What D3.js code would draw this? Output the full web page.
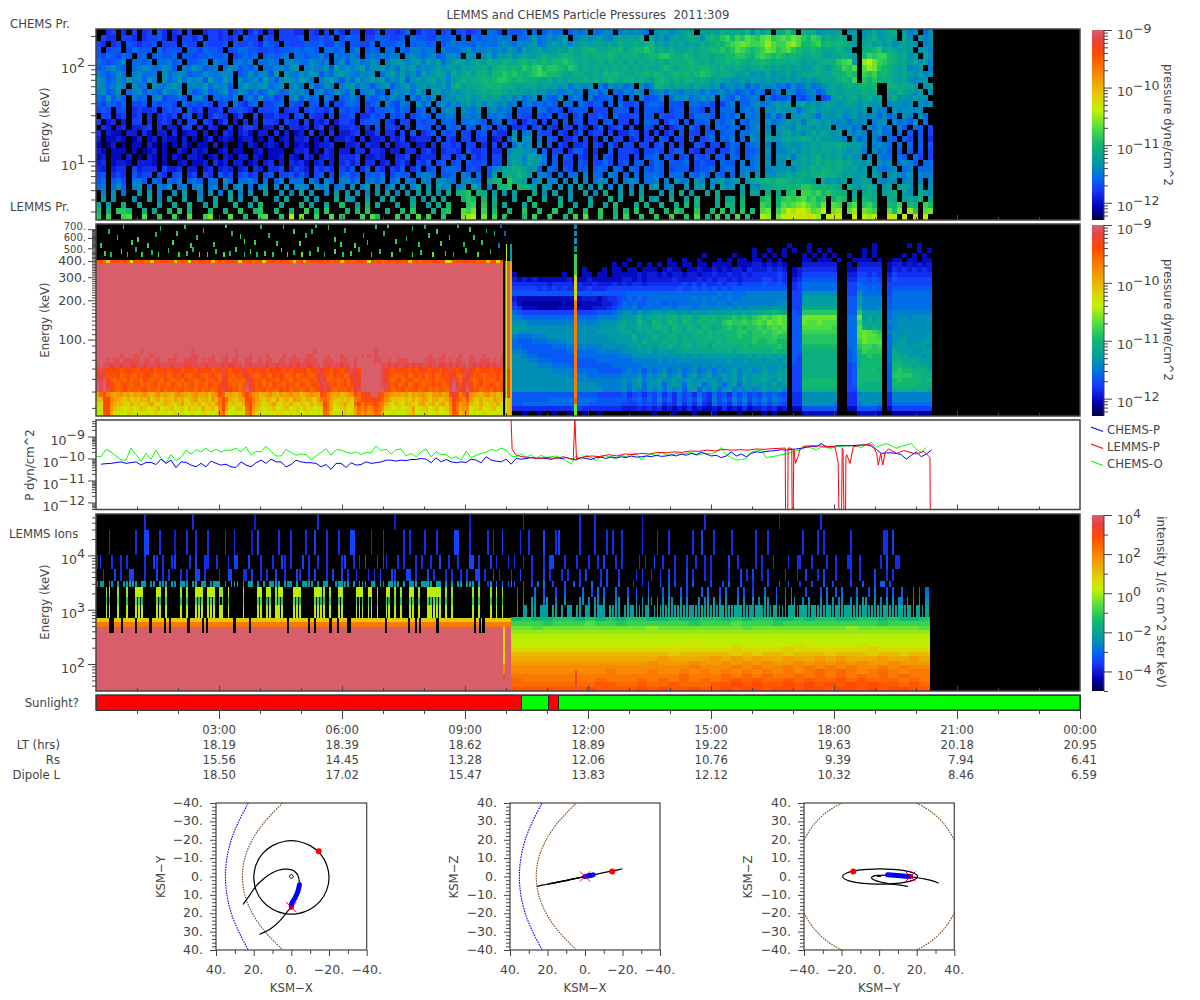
<!DOCTYPE html>
<html>
<head>
<meta charset="utf-8">
<script src="https://cdn.jsdelivr.net/npm/d3@7"></script>
<style>
  body { margin: 0; background: #fff; }
  text { font-family: "DejaVu Sans", sans-serif; font-size: 11.7px; fill: #444; }
  .tick text { font-size: 12.6px; }
  .tick line, .domain { stroke: #444; }
  .cells rect { shape-rendering: crispEdges; }
</style>
</head>
<body>
<script>
// spectrogram rows: one character per bin, 0-z is the height on the colour bar, '.' is no data
const chemsPrRows = [
"..56. 5.6.5 6.75. 56.6. .5665 6.56. 575.5 .6665 5.65. 6.75. 66.55  7.665 68.57 66.67 .6756 7.886 .7778 .8.79 88.79 89.88 a9.9a 9a98.  abb9a bcb.c bcbdc cdcea ebd.c dfc.d cdabb bc.ab .abca bcd.b 9a.8a",
".655. 665.5 6675. 5.665 7.665 656.7 66.76 .6666 7.667 67.68 77.66  87766 7.877 66877 8.7.8 78889 89.88 9a89a 9ab.9 abaab a9bcb cbd.c  ab9bc bcdca dedfg egfhg fhifg hgihf egfcd cdc.b .bcdb bcb.c a.b9a",
"65.56 .7656 67.66 6.766 .7666 7.766 76587 6.766 67778 6687. 77668  .7778 8.788 78.78 98887 98889 a98a9 ab89a bab9b bcbcc bcbdc cdcde  bcbcb cbcbd cdedf ghihg ghjhg gijhe efgde dedcb .cdbc bcabc ba.9a",
"7.677 .6877 7.867 76.77 68776 .6788 77667 67778 7887. 8878. 89.78  7.88. 87998 98.98 889a8 99a9a 9ba8b abcab bcbdc cdedc cddec deefe  cdcdc ccdcd deefe fhgfe fgihf ghfed dedcc cdcb. .ddef cdcbc b.ab9",
"76876 87.78 .7877 8.776 77877 8.678 78.78 789.8 87889 7.988 98.89  89899 .9a98 9a78a a9.ba .ab9b bcabc bbcdc cdedc cdcdd dedcd ddcde  effed dedcd dcdde effed fgfef ededc cddcb ccdcb .egfg gedcd ab.ba",
"87678 9.887 8.889 78.77 89.98 7.898 9.889 8.9a9 88a98 9.8a7 9a89a  9.9ab a9ab9 bab8a bcbab cbdcc ddcde deded eefed cdccd cdcdc dcdcd  cdcdd ddedc dcdde dedcd dedcd dcdcb cbcdd dfghb .jkig fedcc bcab9",
"789a8 7.89a 988a9 7.98a 9789. 8a978 79.88 9a8ab .9a99 a7b9a 9ab8a  ab9a8 bab9a 9abab bacbc cdbde ededf efgef fedfe cdcdc dcdcd cdcdc  cdedc ddede edcdc cdcbc cdcbc bcbcb bcdcb degfh .hjif edcbc 9ab.9",
"9878a 8.9a8 89.a8 9a978 8a989 a9.78 a89a7 b.a98 a9ba7 98aba 98a9a  .8ab9 b9a8b abcb9 cbcdb ddcee fefed efgfe edccd dccdc ededc cdded  edcde dedef edcdd cbbca bacab bcabc ccdcc ddefe .gfgd edcbc bab9a",
"a978a 8b9a7 b9.a8 9b8a9 a7b98 b9.a8 9a8b9 7aba9 ba8.9 ab97a 8b9ab  ab8a9 b7aba bcab9 bcdcd dedef feded ddccd bcbcc cdcdc dedcd dcdcb  dedcd cddcd cbcbb aabab babab ababa babcc cdedg .fdfd ddcbc a9ab.",
"a989a 9.a89 .a98a b9.9a 9b8a9 a7.9b a9ab8 9a.9a 8.a78 a9.9a b8a97  9ab79 ab9ab abab9 cdbcc cdede ddcbc ccbcb bab8a a9a.9 7a9a8 9.a89  ddcbc ccbcb bab8a a9a79 8a9a8 97a89 a89ab cbcdc dede. .ddcc cb.ab",
"9a78a .89a7 987a9 8a.97 8a789 a78a9 7978a 978a9 a8.9a 78a97 a.89a  78.9a 9a8b9 .ab9a babcb cdcdd cbcbb abaa9 a89a8 9.897 9.879 8a9.8  9a8a9 8a9a8 a89a8 97897 98.79 .a978 9a78b cbccc cdcd. .cbdc bab.a",
"87a79 7.978 .9a67 787.9 97.87 879.7 97a78 67.9a 7978. 97.78 97.87  797a8 9.97a 8a.9a abbca bcbcb ab9a8 9a.98 7a.89 8.967 78.7. 8.967  79.8a 9a89a 9a.98 7a789 8.967 78.76 89.67 bcbcd bcdbc .bdab abaa.",
"76876 8.667 .7677 6.867 676.6 7.865 78.66 78.76 6.77. 7.668 87.67  8.976 98.a8 9.9a8 a9ab9 b9ba9 a89.8 97878 7.88. 87677 .7.86 67.78  87.77 6.887 86.68 9.879 a89ab ab.bc ababc babcb abbab .9aa9 a.a9a",
"676.6 7.565 56.67 67.75 6.556 .6676 5.666 7.566 .6766 57.76 76.65  77886 87.78 .8.9a 9.a98 a.9a8 98.77 7.886 76.67 77.66 6.777 .6.77  76.67 7.776 .7.88 8.898 9.a9b aab8a bcabb abaab ab.a9 9.a9a a9a..",
".66.5 6.56. 5.565 6.67. 5.576 5.46. .6.55 655.6 7.655 .6.66 7.557  67.76 7.678 7.889 8.998 9.889 87.76 6.767 .76.6 7.667 6.866 67.77  .7667 7.688 87.78 79.98 9.8a7 9.aab ba8ba ab9ab 9a9a8 a79.a 9.a8.",
"6.45. 4.66. 5.565 .5.66 .65.4 6.4.5 .5.66 5.655 .6.54 6.466 5.677  7.65. 66.76 77.78 7.889 87.78 .76.5 76.6. 6.7.6 7.66. 77.66 .6.87  7.687 .7.77 8.878 9.879 9.a89 abab8 bcbab a9a8a 9a.9a a.989 7a.8.",
".54.4 5.445 6.5.4 4.66. 5.54. .5.46 65.44 .6.55 45.56 .4.55 65.5.  7.665 .6.77 7.6.8 78.87 .87.6 7.556 .67.6 5.66. 65.57 .567. 6..76  .6.56 7.86. 7.887 87.79 a.9.a ba9cb babab .a9a8 9.a8a 89.97 .87.6",
"5.433 .44.5 3.44. 5.344 .4.3. 54.45 3.44. 5.4.3 4.6.4 .5.44 56.44  6.55. 6.7.5 67.76 7.66. 67.65 5.a.8 9.766 .65.5 7.566 .6.55 76.6.  6.56. 7.66. 77.78 8.889 9.a.a bcab9 bcbcb ab.a9 a9.9a 88.8. 7.7.6",
"4.334 3.24. 34.43 3.4.3 .35.3 43.34 4.3.4 .34.4 45.3. 5.445 4.5.4  45.54 6.455 5.6.6 5.66. 66.45 .7b.a a.8.7 6.556 .6.5. 7.66. 56.66  .76.6 6.7.6 78.87 9.8.a 9.baa bcbcd cbcbb aa9.a 89.97 .87.7 6.7.5",
"3.24. 2.33. 42.3. 3.42. 33.4. 3..3. 43.34 3.4.3 43.34 45..4 45.54  4.5.4 55.44 .5.66 56.66 .5.6. 6.8b9 a.9.7 .65.5 56.65 .75.6 6.66.  67.6. 6..76 .66.6 87.78 9.9.9 abaab bcbcc cdcbb ba.9a 98.8. 8.7.7",
"43.33 3.3.2 34.3. .43.4 34..3 4.33. .34.3 33..4 45.3. 54.44 .55.5  54.44 .55.5 64.56 65.75 56.55 .9bba a9.7. 66.57 75.5. .7.66 65.66  76.67 7.65. 66.66 86.77 8.a.9 9abab bcbcc bcbab a9.a8 97.7. 7.7.6",
"34.33 .4.2. 43.3. 43.44 3.34. 43.44 .43.3 34.43 .54.4 54.55 56.44  54..5 56.45 55.66 .67.6 56.66 .abb9 cba8. 7.76. 65.6. 76.66 .6.77  8.76. 67.76 7.77. 87.78 9.9.a ab8bc bcdbc bcaba a.9.9 88.87 .86.6",
"45.34 43.44 43.3. .34.3 34.53 4.44. 34.45 .4.54 53.45 .4.56 46.55  .45.5 64.65 7.67. 67.76 67.66 .acb9 cba8. 7.66. 76.66 86.67 .77.6  87.77 78.67 66.87 7.9.8 9.a.a a.bbc bcdcd cdccb bab.a 9a.8a 97.88",
"54.45 5.645 55.64 45.44 .45.4 54.45 .54.5 56.46 54.65 65.65 7.57.  65.65 7.57. 67.78 87.67 6.79a bcddc ab7.8 7.76. 77.78 7.87. 87.76  87.67 77.67 78.78 8.998 9.9aa ab9bc cdcdd cdcbc ab.a9 89a.8 9.888",
"67.56 5.756 6.65. 67.56 .65.7 56.67 56.67 .6675 75.67 .6.78 67.77  78.68 77.89 98.77 8.98. 8.7b. cdcec b.997 .8.88 .9.87 .98.7 .8.88  87.88 8.879 7.87. 8.9a. a.a9b bcbcd cdded dcbcb bb.ba .ab99 a.999",
"78.78 6.897 .87.8 79.78 7.88. a7.88 97.8. 79.88 8.97. 97.99 79.89  79.89 .98.9 9.aa9 8.9a9 8.bde .fdcb .9a.9 9.9.a .9.8a 9.8.9 a9.88  9.9.a 89.a9 .9ab9 ab.ac cdede edcdc cb.ca bac.a bca.a 9aa.9 a.9.9",
"89.8a 7.9a. 8.98a .89.9 a.89. 9.9a. 8.9a. 9.a.9 a9.a8 a.89. a.9b.  a.8a. a.9b. a.b9a .9a.b a.9.d ef.ed cb.ba .a.a. b.a.b .9.a. 9.a.a  b.9a. .a.ab .a.b9 a.b.a 9ccdd dedef feded dc.db abdb. bc.bc a.b.a",
".9.a. 8..a. b.9.. a.b.. 9.a.8 .b.9. a..b. .a.9. b.a.. 9.b.a .a.9.  a.b.9 .a.b. b.a.c .def. dc.b. a.b.. .c.a. b..a. .b.9. c..b. a.b..  .a.b. c.a.. b.c.. ..b.c b.d.c .ef.g gfgef edd.c .cdc. bcd.b a.cba",
".b.a. ..a.. c.9.b ..b.. a..b. .c.a. .b... a.c.. .b.a. ..c.b a..b.  .b.c. ..b.a .c.b. ..dfe .e.c. ..b.. d..b. .c.a. ..b.. .d.b. ..c.a  b..c. .b.d. ..c.b c.d.. .ef.d fgfgh fgef. dfe.d .edc. .dc.b cbd.c",
"c.b.. d..c. ..b.. c..d. .b.c. ..d.. b.e.. .c... d.b.. c..e. .b.d.  c...b ..d.. b.c.e ...fg .f.d. c...b .e... .d..b ..c.. b.e.. .c.d.  .d..c .e.d. ..c.e d.e.. .gf.e hghij hgfi. hg.fh .fge. .edg. ed.ge",
"e.d.f fe..d .c..e .f.d. ..e.. d..f. .ef.. e..d. .g.e. f...d .e.f.  ..d.. e.f.. .d.ef ..hgi .g.e. .d..f ..e.. f..d. .e..f ..d.e .f..e  ..e.f d..f. .e.f. d.f.e .hi.g ikjlk jhik. ij.hj .ihg. .hei. jf.hi",
"f.g.. gh..h ..f.. g..h. .gi.. .h..e ..gh. .f.k. i..g. .h.f. ..g.h  e...g .f.h. g..f. ..ijk .i.g. f...e .g..f ..e.g .h..f ..e.g ..f..  f..g. .f.h. e.g.f .h.f. .kj.i klkmk mlj.k lk..l .kjl. .mk.l .n.l."
]
const lemmsPrRightRows = [
"", "", "", "",
"....... ....... ....... ....... ....... ....... ....... ......3 ...3... ....... ..3.... ..3.3..",
"....... ....... ....... ....... ....... ....... ......3 ..3..3. 3..3.3. 3...... 3.3.... ....3.3",
"....... ....... ....... ....... ....... ...3... ..3...3 .3.3.3. ..3.3.3 .3..3.. 3.3.... .3.3.3.",
"....... ....... ....... ..3.... ...3..3 ..3...3 .3.33.3 3.3.3.. ..33.33 3.3..33 33.3..3 3.33.33",
"....... ....... ......3 .3..3.3 .3.33.3 3.33.33 33.3334 434343. ..44444 44..3.4 4444.34 4343434",
"....... ....... 3...3.3 3.33.33 3.3433. 3343343 4344354 445454. 3455555 55..335 5555.35 4545454",
"3...... ...3... 33.33.3 3333434 4343443 4434454 4544545 555565. 3466666 66..446 6565.46 5555555",
"4343433 3333433 3433333 3443434 4444544 4454545 5454555 566565. 4577777 77..557 7676.57 6666666",
"5555555 4555545 4454445 4545545 5555556 5656556 5665666 676676. 5688888 88..668 7777.66 6666666",
"6666656 5656555 5655566 6666666 6666676 6767676 7677777 777777. 5688888 88..668 8787.67 7777777",
"7777777 7777777 7777777 7788888 8888888 8888889 8988899 999999. 66aaaaa aa..66a 8888.68 8888888",
"4333333 3333333 4443455 6787878 8888888 8989898 8988999 999999. 66bbbbb bb..77b 9999.78 8888888",
"5322222 2223222 3333445 6878778 8878788 8889889 9899999 9999aa. 66bbbbb bb..77b 9999.78 8888888",
"6533322 2233333 3344456 7889788 8899899 9899999 9a9a9aa aaabaa. 66ccccc cc..77c 999a.78 8888888",
"8766666 6666666 6667778 9aa9baa bbabbab abbabbb bbcbcbc dddedc. 76fffff ff..77f bbbb.89 9999999",
"9988888 8888888 8889999 abbbdbc cdcdecd ecdeded eefefef ghghih. 77iiiii ii..88i bcbc.89 aa9aaaa",
"aaa9999 9999999 999aaaa bcbbecb edcedce dcededd fgffgfg hgihih. 77ihhih hh..88g cccc.99 aaaaaaa",
"bbbaaaa aaaaaaa aaaabbb ccbbdcc dedcedc edcedcd efefeff gfghgh. 77hhhhh hg..88h dcdc.89 aaaaaaa",
"baaaaaa aaaaaaa aaabbbb bccbccd ccdcddc ddedede eeeffef fgfghg. 77ggggg gg..88h ihgf.9a aaaaaaa",
"9888999 aaaaaaa aaaaabb bbbdbbc dccddcd cdddedd deefeef fffgff. 77fffff ff..88h ihhg.8a abaaaab",
"8777888 9999aaa aaaaaaa bbbcbdc ccdcdcd dcdddde deeeeef eeffee. 77fffff ff..88g ihhh.8a bbaaabb",
"8877777 7888999 9999aaa aabbcbc bccdccd dcddcdd ddddede eeeefe. 77eeeee ee..88f ggfg.8b bbabbba",
"9987777 7777888 8889999 9aaabbc abbbbcc ccccccd cdcdddd dddedd. 77ddddd dd..78e gfff.8c bbbaabb",
"aa98877 7777778 8888888 999aaaa aaaabab ababbbb bbbbbcb cbcbcb. 76ddddd dd..78d efee.8d ccbbbab",
"aaa9988 8777777 7778888 8889999 9a9a9aa aaaaaaa abaabab babbab. 76ddddd dd..78d eeee.8d dcccbbb",
"aaaaa99 9888877 7777778 8888899 9999999 9a9a9a9 aaaaaaa abaaba. 66ddddd dd..67d eeee.7e eddcccb",
"aaaaaaa a999988 8887777 7898979 89a89a8 9a89a8a 9ab9ab9 abaabb. 66ddddd dd..67e eeed.7e feedddc",
"aaaaaaa aaaa999 9888888 8999a8a 9ab9ab8 ab9ab9a bab9bab bcbbcb. 66ddddd dd..67e eeee.7f fffeedd",
"aaaaaaa aaaaaa9 9999999 9a9ab9a abaabaa baabab9 bab9bab bcbacb. 66eeeee ee..67e eeee.7e feeeede",
"aaaaaaa aaaaaaa aaa9999 9a8ab8a ab8aba8 bab8aba 8ab8bab abacab. 66eeeee ee..67e dddd.7e eeeeddd",
"aaaaaaa aaaaaaa aaaa999 9a8a98a 9a8a9a7 ab7a9a8 ab8a9a9 abaab9. 66ddddd dd..66d dddd.7d dddcddc",
"7777777 7777777 7776666 6756757 6857586 7586586 7586867 687876. 55aaaaa aa..559 aaaa.59 9999999",
"7777777 8888888 8887777 7767868 6968586 8696596 8697968 797987. 55aaaaa aa..55a aaaa.59 9999999",
"7788888 8888888 8777777 7666767 6856585 7585486 7586857 686876. 55aaaaa a9..559 aaa9.58 8888888",
"5555555 5555566 5555555 5444545 4534343 5343343 5343534 454534. 3377777 77..337 7776.36 6666666",
"..2..2. .2..2.. 2..2... ....... 2...2.. .2...2. ...2... .2.2... ..33333 33....3 3332..2 2222222"
]
const lemmsPrLowRows = [
"zzzzzzzzzz zzzyzzzzzz zzzzzzzzyz zzzzzzzzzz zyzzzzzzzz zzzzzzzzzz zzzzyzzzzz zzzzzzzzzz zzyzzzzzzz zzzzzzzzzz zzzzzzzzzz zzzzzzzzzz",
"zzzzzzzyzz zyyzzzyzzz zzzyzzzzyy zzzzyzzzyz zyzzzyzzzz yzzzzyzzyz zzyyzzzzyz zzyzzzzzyz yzyzzzzzzz zzzzzzzzyz zzyzzzzyzz yzzzyzzzzy",
"zzzyzyyzyy yyyzyyzyyz zyyyzzyyyy zyzyyzzyyz yyzzyyzzyz yyzzyyzyyy zyyyyzzyyy zzyyzzyzzz zzyyzzyzzy yyzzzzzyyy zyyzyzyyzz yyzyyyzyzy",
"yzyyxyyxyy xxyyxyyyxy yyxyyyxxyy yyxyyyyxyx xyyzyxyyyy xyyxyyyxyx yyxxyyzyxy yyxyyzyzzz zzzzyyxyxy yxyxyxyyxy yxxyxyxyyz yxyxyxyxyy",
"wywvvwvuvw vvuwvvwuvv wuvvwuvvvu wvvwuvvyvu vvwxvuwvvw uvvwvuwuvw vwuvvyxvvu wvuvwyxvzz zzzzyxvuwv vwuvuvwvuw vuwvyvuwvy wvuvwvuwvv",
"xwyuvuvtuv utvuvwutuu vtuvuwutuv vutuwutwvu tvuwxvutuv utvuwutuvt uvutuwyvut vuvtuxxwzz zzzzywvutu uvtuvuvtuv tuvuxwutyx vuvutuvuvu",
"yxzwutuutv tuutvutuut vutuutvuut uvtuuvtxwt ututxwvuut vuutvuutvu utuvuxywtu utuvtwxwzz zzzzyxutuv tuvutuutuv tuuvxyvtwx utuvtutuvu",
"zyzxvutuvu tuvtutuvtu utvututuvt uutvutvxvu tutuyxvuvt utvuutvuut vutuvuxywu vtuvtvxxzz zzzzyyvuvt uvtuvutuuv uvtuxzxuxy vtuvtuvutv",
"zyzywutuvt uutuvtuutv tuutuvtuut vtuutuvyxv uutuzywuuv tuutvuvtuu tuvtuvxyxu tuutvuxyzz zzzzzyvtuu vtuuvtuvtu tuutyzyvxz wuvtuutvuv",
"qtvsqpqrpq oqpqrpoqrp qpoqrqpoqr ppqoqrvtpq poqtvtrqop qrpoqpqrpq opqrqpvusq pqopqrvtvw wzzvusrqpq pqoqpqrpoq qrpqvxvrux rqpoqrpqop",
"oovvsqponp nonpoqnopn ponqopnopq nopnqosvtp onpqvusqon ponqnopnqp onponqstsp ononpnstvv vwwvtrqnon nonpnoqpnp pnopswutru qonpnonqpo",
"nmvvrpoonm pnomnoqnmn ponmoqnmon pmnonqsvrn onmpuvrpom noqnmonpnm onmpnopvsp mnoqnmtvsu tuvtspnmon mponmpqnop mpqnrvtqrs onmpnmonpm",
"lmvvqonmlm nlmonlmnpl mnolmnlomn lpmnolrvqm lnomtvqonl mnolmnolmn lomnlmnusp lmnolmqtrt rsutrnmlmn lmnqlmnolm olmnqvspqr lmnolmnolm",
"kkuvpmlkln mklmkmlnkl mlknlmklml knmlkmqtnl kmlksupmkl mklnmklmkn lkmlkmltrn kmlnkmpsqs qrtsplkmlk kmnplkmnlk nlkmputnpq kmlknmlkml"
]
const lemmsPrBandRow = "uvtnuvvuwu lvuvtunvuv wuvnuvulvu vwuvnuvtuv wulvuvtuvn uvwuvuvtlu vnuvuwvuvt uvnuvtuvwu lvuvtuvuwv uvnuvtuvuv wuvlnuvuwv uvtuvnuvlu"
// [hour, keV, colour code] of the lone bins above the 400 keV channel
const lemmsPrSparks = [
[.2,440,'g'],[.35,430,'e'],[.6,450,'h'],[.75,430,'f'],[.95,470,'e'],[1.1,430,'g'],[1.35,445,'e'],[1.5,430,'h'],[1.75,460,'f'],[2.0,430,'g'],
[2.2,440,'f'],[2.35,470,'e'],[2.5,430,'i'],[2.7,430,'g'],[2.9,455,'f'],[3.1,430,'h'],[3.25,440,'e'],[3.4,470,'g'],[3.6,430,'f'],[3.75,450,'h'],
[3.9,430,'e'],[4.1,440,'g'],[4.3,430,'f'],[4.5,465,'h'],[4.65,430,'g'],[4.8,445,'e'],[5.0,430,'i'],[5.2,440,'f'],[5.4,470,'g'],[5.55,430,'e'],
[5.8,450,'h'],[6.0,430,'f'],[6.2,440,'g'],[6.4,470,'e'],[6.7,430,'g'],[6.9,450,'f'],[7.2,430,'h'],[7.4,465,'e'],[7.7,430,'g'],[7.9,445,'f'],
[8.2,430,'i'],[8.5,440,'g'],[8.7,430,'e'],[9.0,460,'f'],[9.3,430,'h'],[9.6,450,'e'],
[.3,640,'e'],[.85,530,'g'],[1.0,560,'h'],[1.55,680,'e'],[1.95,620,'f'],[2.3,500,'g'],[2.6,660,'e'],[3.15,720,'g'],[3.5,590,'f'],[3.6,540,'h'],
[4.0,700,'e'],[4.4,520,'f'],[4.8,640,'g'],[5.1,600,'e'],[5.35,720,'f'],[5.8,560,'g'],[6.05,660,'e'],[6.3,500,'h'],[6.8,700,'f'],[7.0,620,'e'],
[7.3,540,'g'],[7.7,680,'e'],[8.1,600,'f'],[8.4,520,'g'],[8.8,720,'e'],[9.2,580,'f'],[9.5,650,'e'],[9.8,500,'8'],[9.95,620,'7'],
[.1,500,'f'],[.5,580,'e'],[.65,700,'f'],[1.25,500,'g'],[1.45,610,'e'],[1.85,530,'h'],[2.15,700,'f'],[2.45,580,'e'],[2.85,510,'f'],[3.3,620,'e'],
[3.85,530,'g'],[4.2,600,'e'],[4.55,700,'f'],[4.95,520,'h'],[5.25,640,'e'],[5.65,690,'f'],[5.95,510,'g'],[6.5,600,'e'],[6.6,530,'f'],[7.1,720,'g'],
[7.55,570,'e'],[7.85,510,'f'],[8.0,700,'e'],[8.3,640,'g'],[8.6,580,'f'],[8.95,510,'e'],[9.1,670,'g'],[9.4,530,'f'],[9.7,620,'e'],[9.85,720,'7']
]
// [start hour, end hour, low keV, high keV, colour code]
const lemmsPrStrips = [
[0,9.93,85,385,'z'],[9.98,10.1,60,400,'z'],[9.98,10.1,36,60,'w'],[9.98,10.1,26,36,'o'],[10.0,10.03,26,540,'l'],[10.1,10.15,26,400,'p'],[10.1,10.15,400,540,'b'],
[11.67,11.73,26,32,'i'],[11.67,11.73,32,36,'u'],[11.67,11.73,36,200,'s'],[11.67,11.73,200,310,'m'],[11.67,11.73,310,450,'g'],
[11.67,11.73,470,520,'b'],[11.67,11.73,540,600,'b'],[11.67,11.73,620,680,'a'],[11.67,11.73,700,765,'a']
]
const lemmsIonEdges = [57800,29400,10160,5600,3390,2620,1714,1220,703]
const lemmsIonUpperRows = [
".......... ......5... .......... ..5....... .......... ...4...... .......... ....5..... .......... .......... 4......... .......... .....4.... ..........  ...5...... .......... ..5....5.. .......... ...4...... .......... ....5..... .......... .........4 .......... ...5...... .......... .......... ..........",
"....5..... ...5..66.. .5....4... 5..5...5.. ...5..5... ..4.6..... .5...5.... 5..6...5.. .5...66... ..5...5... ...5.5.... 5...5..... 66...5.... .5.5..6...  ..5..5.... 6...56.... ..5....5.. .5.5..5... ...5....5. ..5....... 5..6...5.. ...5...... .5...5.... .......5.. ..5.5..... ...5...... ....55.6.. ..........",
"56...5..5. 5.....5..6 5.5..56... .5.6..55.. 5...5.66.. .6...5...5 ..65.5...6 .5..5..5.. ..56..5.5. 6...5.65.. .5.5...5.5 ..5..6..5. .5...66.5. ..6.5...5.  5..5..5... 5.66...5.. .5...5..5. 6...5.5... ..5.5..6.. 5...5...5. .5..5.5... ..6..5.... .5.5...5.. ..5..55... 5....5..5. ..55..5... ...5.6..55 ..........",
"..5...6.5. .66...5... 6.5.5...5. 5..66.5... .5..66...5 5.6..5.5.. 6..5...65. .5.6...5.6 ..6.5..5.. .5.5.6...6 5...66.5.. .6.5...5.5 ..5.5..66. 5..6.5...5  ..6...5... 6.5...5.5. ..5.6....5 .6...5.... .5.6..5..5 ..6.5...6. 5...5.5... ..5...6.5. 6..5.5.... .5...5..6. ..5.6...5. ...5..5... .6...5.5.. ..........",
"abb.ba.b.a bcba.bb.ab .bab.ba.bb a.bc.bb.ab bb.a.bab.a .bb.a.b.bb ab.baa.b.b bcb.a.bb.. abbab.b.ab a.bb.ba.bb ab.b.aab.b bbc.bb.a.b .ab.bab.a. .5a.7.8.6b  6..7..6.8. 9..6...6.. 7.6...8..6 .6...7.... 6..5.6...8 ..7.6...6. 7.....6... 6.8...7... 5....6...6 ..7...5... 6...7..6.. ...6...7.. .6.77.6... ..........",
"...ik..j.. j..kkk.... kk.j....j. j..kkk.kkk .jj.k....j ....kk.kk. jkk...kkk. ...kkkj.j. .kk....kkk .kk.j..kk. j.j..kk.j. .kkkkk.j.j ......j.j. ..j.k.j...  .7.6...8.. 7...6..7.. ...8..6.8. 7...8...6. .6...8.... 7.8...7.6. ...7.8...6 .8...7.6.. 6...8...7. .7.8....6. ...6.8..7. 8....7...6 .8...6.7.. 7...8.8.88",
"...ge..h.. f..hge.... he.g....f. f..gfg.hgh .fg.f....h ....gh.eg. hgf...hge. ...hgef.f. .fh....ghf .gh.f..ge. h.f..hg.f. .gfhgh.f.h ......g.f. ..f.h.f...  .9.a..ba.. 8a..9..a.. ..9a.9.a9. a...9a..a. .9.a.ba.9. 9.ba..a.9. ..a.9a.b.9 .a...9.a.. a.9.ba..9. .a.ba..9.a ...a.9.a.9 a..9.a.ba. .a.9.a.a.9 9.a.9.a.aa",
"...lk..k.. k..lkl.... kl.k....k. k..lkl.klk .kk.l....k ....kl.kl. kkl...klk. ...lklk.k. .lk....klk .kl.k..lk. k.k..kl.k. .kklkl.k.k ......k.k. ..k.l.k...  .b.bb.cb.b bb.cb.b.bb .cb.bb.cbb b.cbcb.bcb bcbcbb.bcb cbcbcbcbcb bcbcbcbcbc cbcbcccbcb bcccbcbccb cbcccbcccb ccbcbccbcc bcccbcbccb cbcbccbcbc cbccbccbcc"
]
const lemmsIonRightRows = [
"efeeffefef effeefeeff efeffeefef feeffefeef",
"gggfggghgg fggggggfgg ghgggfgggg gggggfgggg",
"iihiiiiiii iiijiiiiii iihiiiiiii iijiiiiiih",
"jjjjjjjjjj jjjjjjjjjj jjjjjjjjjj jjjjjjjjjj",
"kkkkkkkkkk kkkkkkkkkk kkkkkkkkkk kkkkkkkkkk",
"kkkkkkkkkk kkkkkkklkk kkkkkkkklk kkkkkkkkkk",
"llllllllll llllllllll lmlllllmll lllmllllll",
"mmmmmmmmmm mmmmmmmmmm mnmmmmnmmm mmmmnmmmmm",
"oooooooooo ooooonoooo ononoonooo nooonoonoo",
"pppppppppp ppppqppppq pqpqppqppq pqpppqppqp",
"qqqqqqqqqq qqqrqqqrqq rqrqrqqrqr qrqrqqrqqq",
"rrrrrrrrrr rrrrrrrsrr rsrsrrsrsr srsrrsrsrr",
"rrrrrrrrrs rrrsrrsrsr srsrsrsrst stsrstsrss",
"ssssssssss sssssstsss tststsstst ststststss",
"tsssssssts sststststs tututtutut tututttsts",
"ttttttttuu ttuttutttu uvuvuuvuvu vuvuvuutut",
"uuuuuuuvuu uuvuvuuvuu vuvvuvvuvv uvvuvuvvuu"
]
const lemmsIonStrips = [
[0,10.13,593,703,'n'],[0,10.13,490,593,'s'],[0,9.93,31.9,490,'z'],[9.98,10.13,31.9,490,'z'],
[9.93,9.98,100,490,'m'],[9.93,9.98,65,100,'r'],[9.93,9.98,50,65,'y'],[9.93,9.98,31.9,50,'z'],
[11.68,11.72,42,75,'w'],[11.68,11.72,32,42,'y']
]
const ionNotchHours = [.32,.38,.60,.94,1.30,1.65,1.77,2.23,2.58,2.68,3.35,3.73,4.66,5.17,5.31,5.69,5.87,6.11,6.15,7.04,7.60,7.77,7.88,8.30,9.21,9.33,9.42]

// pressures in units of 1e-10 dyn/cm^2, one value per 0.122 hours
const pressureUnit = 1e-10
const seriesStep = 0.122
const chemsO = [1.2,1.2,2.6,2.0,1.3,.85,.85,2.9,1.5,.75,1.7,.9,2.4,1.0,.65,1.5,.8,1.1,2.4,1.6,2.5,2.0,2.9,2.0,2.6,2.0,2.4,2.4,2.9,2.0,3.4,1.4,2.1,2.0,3.6,2.1,1.3,1.3,2.6,1.9,1.4,1.6,1.5,.9,1.3,1.9,2.8,1.4,2.5,2.4,1.9,1.7,2.0,1.5,1.9,1.8,3.7,2.3,2.6,1.6,2.5,2.7,1.3,1.7,1.2,2.0,2.7,1.2,2.0,1.5,1.5,1.0,1.2,.85,2.1,1.1,1.4,1.7,1.9,2.6,2.2,3.0,2.4,1.3,1.2,1.6,1.1,1.5,1.0,1.4,1.1,1.2,1.3,1.0,.8,.55,1.3,.9,1.4,1.1,.8,1.4,1.3,1.1,1.0,1.4,1.2,1.6,1.7,.9,1.3,1.6,1.3,1.9,1.5,1.3,1.7,1.5,1.7,1.9,1.4,1.6,1.7,1.6,2.0,3.1,1.5,1.1,.84,.9,1.0,2.0,2.2,2.4,1.1,1.2,1.3,1.5,1.6,1.9,2.2,2.6,3.6,3.0,2.5,3.3,3.1,2.9,3.4,3.6,3.8,3.8,3.8,3.1,4.2,5.3,3.3,4.0,4.8,3.8,2.9,3.6,4.2,4.8,2.6,1.9,3.2]
const chemsP = [null,.55,.58,.6,.65,.7,.6,.65,.7,.5,.66,.66,.53,.93,.6,.84,.38,.7,.66,.5,.42,.6,.42,.76,.6,.5,.55,.42,.39,.7,.5,.42,.64,.84,.6,.93,.7,.7,.42,.53,.84,.7,.64,.64,.6,.42,.53,.32,.6,.6,.39,.64,.5,.53,.7,.6,.64,.7,.84,.84,.76,.84,.8,.9,.9,1.0,.93,.64,1.07,.7,.9,.7,.64,.7,.66,.93,.84,.64,1.2,.84,.76,.7,.93,.55,1.0,.93,1.0,1.1,1.0,1.05,1.0,.9,1.1,1.0,1.1,.95,.85,1.1,1.0,.9,1.1,1.15,1.0,1.2,1.05,1.2,1.1,1.3,1.15,1.2,1.3,1.2,1.4,1.25,1.3,1.5,1.3,1.6,1.4,1.7,1.5,1.9,1.6,1.3,1.4,1.1,1.3,2.0,1.3,1.6,1.2,1.7,2.0,1.9,2.1,2.2,2.3,2.5,2.4,2.6,2.7,2.9,3.2,3.6,3.4,4.8,3.4,3.3,3.8,3.8,3.8,3.8,4.0,4.1,4.2,3.6,2.6,1.7,1.8,1.8,1.7,1.5,.93,1.4,2.0,1.2,1.6,2.4]
const lemmsPHours = [10.10,10.15,10.25,10.4,10.6,10.8,11.0,11.2,11.4,11.64,11.68,11.72,11.9,12.1,12.3,12.5,12.7,12.9,13.1,13.3,13.5,13.7,13.9,14.1,14.3,14.5,14.7,14.9,15.1,15.3,15.5,15.7,15.9,16.1,16.3,16.5,16.7,16.81,16.82,16.87,16.88,16.97,16.98,17.0,17.02,17.06,17.12,17.17,17.25,17.5,17.8,18.02,18.1,18.13,18.18,18.2,18.22,18.25,18.28,18.29,18.31,18.39,18.47,18.6,18.88,18.96,19.04,19.08,19.14,19.19,19.25,19.33,19.53,19.7,20.0,20.2,20.34,20.35]
const lemmsP = [900,2.6,1.4,1.2,1.1,1.0,1.1,1.0,1.2,.9,60,.95,1.2,1.3,1.2,1.5,1.3,1.6,1.5,1.7,1.6,1.9,1.8,2.0,1.9,2.2,2.1,2.4,2.2,2.6,2.4,2.5,2.4,2.7,2.6,2.8,2.9,3.0,.0005,.0005,3.0,2.9,.0005,.0005,2.5,.6,1.2,2.5,3.6,3.8,3.6,3.4,.7,.0005,.0005,2.9,2.4,.0005,.0005,1.2,1.5,.6,3.4,3.8,4.6,3.5,1.7,.5,1.7,.5,2.0,2.7,1.7,2.3,1.6,2.1,1.1,.0005]

const sunlightEdges = [0,10.37,11.03,11.27,24]
const sunlightLit = [false,true,false,true]
const timeHours = [3,6,9,12,15,18,21,24]
const timeLabels = ['03:00','06:00','09:00','12:00','15:00','18:00','21:00','00:00']
const ltLabels = ['18.19','18.39','18.62','18.89','19.22','19.63','20.18','20.95']
const rsLabels = ['15.56','14.45','13.28','12.06','10.76','9.39','7.94','6.41']
const dipoleLabels = ['18.50','17.02','15.47','13.83','12.12','10.32','8.46','6.59']

// orbit in KSM, Saturn radii
const inboundX = [25.5,22,19,15,11,7,4,1,-1.5,-3.5,-4.3]
const inboundY = [15,10,5.5,1.5,-1.5,-3.4,-4,-3.9,-3,-.5,3.5]
const inboundZ = [-5.4,-4.6,-4.0,-3.2,-2.4,-1.5,-.9,-.3,.2,.6,.8]
const todayX = [-4.3,-3.5,-2,-.3,0]
const todayY = [4.5,8,11.5,14.5,16.7]
const todayZ = [.9,.7,.4,.1,0]
const outboundX = [0,2,6,11,16.7]
const outboundY = [16.7,19,24,28.5,31.4]
const outboundZ = [0,-.5,-1.3,-2.4,-3.5]
const loopX = [20,18.8,15.3,10,3.5,-3.5,-10,-15.3,-18.8,-20,-18.8,-15.3,-10,-3.5,3.5,10,15.3,18.8]
const loopY = [.5,7.3,13.4,17.8,20.2,20.2,17.8,13.4,7.3,.5,-6.3,-12.4,-16.8,-19.2,-19.2,-16.8,-12.4,-6.3]
const loopZ = [-4.2,-3.9,-3.2,-2.1,-.7,.7,2.1,3.2,3.9,4.2,3.9,3.2,2.1,.7,-.7,-2.1,-3.2,-3.9]
const ringX = [1,.7,0,-.7,-1,-.7,0,.7]
const ringY = [0,.7,1,.7,0,-.7,-1,-.7]
const markerX = -14.5, markerY = -13.8, markerZ = 2.7
const crossX = 0, crossY = 16.7, crossZ = 0
const shockX = [22.9,27.9,31.9,34.2,35,34.2,31.9,27.9,22.9]
const pauseX = [4.6,14,20.7,24.7,26,24.7,20.7,14,4.6]
const boundaryY = [-39.9,-30,-20,-10,0,10,20,30,39.9]
const pauseArcA = [-40,-35,-28,-20]
const pauseArcB = [20,28,35,40]

const barHeights = [0,.07,.16,.22,.30,.40,.49,.58,.65,.76,.88,.95,1]
const barColours = ['#000040','#0000b0','#1838ff','#0068f0','#0098a8','#10b870','#50e040','#c4f000','#e0d000','#f79000','#ff4a00','#e94040','#d85f6a']
const barColor = d3.scaleLinear().domain(barHeights).range(barColours)
const codeColor = ch => barColor(parseInt(ch, 36) / 35)

const svg = d3.select('body').append('svg').attr('width', 1200).attr('height', 1000)
const x = d3.scaleLinear().domain([0, 24]).range([96, 1080])

const yChems = d3.scaleLog().domain([2.45, 236]).range([220, 29])
const yLemms = d3.scaleLog().domain([26, 767]).range([416, 224])
const yPress = d3.scaleLog().domain([Math.pow(10, -12.32), Math.pow(10, -8.25)]).range([509.5, 420])
const yIons = d3.scaleLog().domain([31.9, 57800]).range([691, 514])

function geomEdges(lo, hi, n) {
  return d3.range(n + 1).map(i => hi * Math.pow(lo / hi, i / n))
}

// merges equal neighbours of a row into one rect, inset narrows each run
function paintRows(g, rows, h0, h1, cols, edges, y, inset) {
  let runs = []
  let pad = inset || 0
  rows.forEach((row, r) => {
    let cells = row.replace(/\s/g, '')
    let start = 0
    for (let i = 1; i <= cells.length; i++) {
      if (cells[i] !== cells[start]) {
        if (cells[start] !== '.') runs.push({ c0: start, c1: i, r: r, ch: cells[start] })
        start = i
      }
    }
  })
  let w = (h1 - h0) / cols
  g.append('g').attr('class', 'cells').selectAll('rect').data(runs).join('rect')
    .attr('x', d => x(h0 + d.c0 * w) + pad / 2)
    .attr('width', d => x(h0 + d.c1 * w) - x(h0 + d.c0 * w) - pad)
    .attr('y', d => y(edges[d.r]))
    .attr('height', d => y(edges[d.r + 1]) - y(edges[d.r]))
    .attr('fill', d => codeColor(d.ch))
}

function paintStrips(g, strips, y) {
  g.append('g').attr('class', 'cells').selectAll('rect').data(strips).join('rect')
    .attr('x', d => x(d[0]))
    .attr('width', d => x(d[1]) - x(d[0]))
    .attr('y', d => y(d[3]))
    .attr('height', d => y(d[2]) - y(d[3]))
    .attr('fill', d => codeColor(d[4]))
}

function logTicks(scale) {
  let [a, b] = scale.domain()
  let out = []
  for (let e = Math.floor(Math.log10(a)); e <= Math.ceil(Math.log10(b)); e++) {
    for (let m = 1; m < 10; m++) {
      let v = m * Math.pow(10, e)
      if (v >= a && v <= b) out.push(v)
    }
  }
  return out
}

function isDecade(v) {
  return Math.abs(Math.log10(v) - Math.round(Math.log10(v))) < 1e-6
}

// "10" with a raised exponent
function expLabel(text, exponent, side) {
  text.text(null).attr('dy', null).attr('y', 8)
  text.append('tspan').text('10')
  text.append('tspan').attr('dy', -6).text(String(exponent).replace('-', '\u2212'))
  if (side == 'right') text.attr('x', 13)
}

function logAxis(gen, g, scale, ticks, major, minor, labelled, side) {
  let ax = gen(scale).tickValues(ticks).tickSize(minor).tickFormat('')
  g.call(ax)
  g.select('.domain').remove()
  let dir = side == 'right' ? 1 : -1
  g.selectAll('.tick').each(function (d) {
    let tick = d3.select(this)
    if (major(d)) tick.select('line').attr('x2', dir * 8)
    if (labelled(d)) {
      tick.select('text').attr('x', dir * 11)
      expLabel(tick.select('text'), Math.round(Math.log10(d)), side)
    }
  })
}

function hourTicks(g, h, y) {
  let minor = d3.range(1, 24).filter(d => d % 3 != 0)
  let major = d3.range(3, 24, 3)
  let draw = (vals, len, cls) => {
    let a = g.append('g').attr('transform', `translate(0,${y})`)
      .call(d3.axisBottom(x).tickValues(vals).tickSize(-len).tickFormat(''))
    a.select('.domain').remove()
    a.selectAll('line').attr('stroke', cls)
  }
  draw(minor, 3, '#777')
  draw(major, 5, '#777')
}

function frame(y0, y1, fill) {
  svg.append('rect').attr('x', 96).attr('y', y0).attr('width', 984).attr('height', y1 - y0)
    .attr('fill', fill)
  let g = svg.append('g')
  return g
}

function closeFrame(y0, y1) {
  hourTicks(svg.append('g'), 0, y1)
  svg.append('rect').attr('x', 96).attr('y', y0).attr('width', 984).attr('height', y1 - y0)
    .attr('fill', 'none').attr('stroke', '#444').attr('stroke-width', 1.5)
}

// first spectrogram
let g1 = frame(29, 220, '#000')
paintRows(g1, chemsPrRows, 0, 20.41, 165, geomEdges(2.45, 236, chemsPrRows.length), yChems)
closeFrame(29, 220)
logAxis(d3.axisLeft, svg.append('g').attr('transform', 'translate(96,0)'), yChems, logTicks(yChems),
  isDecade, 5, isDecade, 'left')

// second spectrogram
let g2 = frame(224, 416, '#000')
paintStrips(g2, lemmsPrStrips.slice(0, 1), yLemms)
paintRows(g2, lemmsPrLowRows, 0, 9.93, 120, geomEdges(26, 85, lemmsPrLowRows.length), yLemms)
paintRows(g2, [lemmsPrBandRow], 0, 9.93, 120, [410, 385], yLemms)
g2.append('g').attr('class', 'cells').selectAll('rect').data(lemmsPrSparks).join('rect')
  .attr('x', d => x(d[0])).attr('width', 1.7)
  .attr('y', d => yLemms(d[1] * 1.09)).attr('height', d => yLemms(d[1]) - yLemms(d[1] * 1.09))
  .attr('fill', d => codeColor(d[2]))
paintRows(g2, lemmsPrRightRows, 10.14, 20.4, 84, geomEdges(26, 767, lemmsPrRightRows.length), yLemms)
paintStrips(g2, lemmsPrStrips.slice(1), yLemms)
closeFrame(224, 416)
let lemmsTicks = d3.range(30, 100, 10).concat(d3.range(100, 710, 10))
logAxis(d3.axisLeft, svg.append('g').attr('transform', 'translate(96,0)'), yLemms, lemmsTicks,
  d => d % 100 == 0, 4, () => false, 'left')
// the three top labels would touch at their true height, so they sit a little apart
const lemmsLabelKeV = [100, 200, 300, 400, 500, 600, 700]
const lemmsLabelNudge = [0, 0, 0, 0, 0, -1, -4]
svg.append('g').selectAll('text').data(lemmsLabelKeV).join('text')
  .attr('x', 86).attr('y', (d, i) => yLemms(d) + 4.5 + lemmsLabelNudge[i]).attr('text-anchor', 'end')
  .style('font-size', d => d >= 500 ? '10px' : '12.5px').text(d => d + '.')

// pressure lines
let g3 = frame(420, 509.5, '#fff')
svg.append('clipPath').attr('id', 'press-clip').append('rect')
  .attr('x', 96).attr('y', 420).attr('width', 984).attr('height', 89.5)
let pressLine = d3.line()
  .defined(d => d[1] != null)
  .x(d => x(d[0]))
  .y(d => yPress(d[1] * pressureUnit))
let lineG = g3.append('g').attr('clip-path', 'url(#press-clip)').attr('fill', 'none').attr('stroke-width', 1)
lineG.append('path').attr('stroke', '#00ff00').attr('d', pressLine(chemsO.map((v, i) => [i * seriesStep, v])))
lineG.append('path').attr('stroke', '#0000ff').attr('d', pressLine(chemsP.map((v, i) => [i * seriesStep, v])))
lineG.append('path').attr('stroke', '#ff0000').attr('d', pressLine(lemmsP.map((v, i) => [lemmsPHours[i], v])))
closeFrame(420, 509.5)
logAxis(d3.axisLeft, svg.append('g').attr('transform', 'translate(96,0)'), yPress, logTicks(yPress),
  isDecade, 4, isDecade, 'left')

// third spectrogram
let g4 = frame(514, 691, '#000')
paintStrips(g4, lemmsIonStrips.slice(0, 8), yIons)
paintRows(g4, lemmsIonUpperRows, 0, 20.34, 280, lemmsIonEdges, yIons, 1.2)
paintRows(g4, lemmsIonRightRows, 10.13, 20.34, 40, geomEdges(31.9, 735, lemmsIonRightRows.length), yIons)
paintStrips(g4, lemmsIonStrips.slice(8), yIons)
g4.append('g').attr('class', 'cells').selectAll('rect').data(ionNotchHours).join('rect')
  .attr('x', d => x(d)).attr('width', 2.4).attr('y', yIons(703)).attr('height', yIons(372) - yIons(703))
  .attr('fill', '#000')
closeFrame(514, 691)
logAxis(d3.axisLeft, svg.append('g').attr('transform', 'translate(96,0)'), yIons, logTicks(yIons),
  isDecade, 4, isDecade, 'left')

// sunlight bar
svg.append('g').attr('class', 'cells').selectAll('rect').data(sunlightLit).join('rect')
  .attr('x', (d, i) => x(sunlightEdges[i]))
  .attr('width', (d, i) => x(sunlightEdges[i + 1]) - x(sunlightEdges[i]))
  .attr('y', 695).attr('height', 15)
  .attr('fill', d => d ? '#00ff00' : '#ff0000')
  .attr('stroke', '#222').attr('stroke-width', 1)
let timeAxisMinor = svg.append('g').attr('transform', 'translate(0,710)')
  .call(d3.axisBottom(x).tickValues(d3.range(1, 25).filter(d => d % 3 != 0)).tickSize(4).tickFormat(''))
timeAxisMinor.select('.domain').remove()
let timeAxisMajor = svg.append('g').attr('transform', 'translate(0,710)')
  .call(d3.axisBottom(x).tickValues(timeHours).tickSize(9).tickFormat(''))
timeAxisMajor.select('.domain').remove()
svg.append('rect').attr('x', 96).attr('y', 695).attr('width', 984).attr('height', 15)
  .attr('fill', 'none').attr('stroke', '#444').attr('stroke-width', 1.5)

function labelRow(labels, y) {
  svg.append('g').selectAll('text').data(labels).join('text')
    .attr('x', (d, i) => x(timeHours[i]) + 17).attr('y', y).attr('text-anchor', 'end').text(d => d)
}
labelRow(timeLabels, 734)
labelRow(ltLabels, 749)
labelRow(rsLabels, 764)
labelRow(dipoleLabels, 779)

// colour bars
function colourBar(y0, y1, scale, ticks, major, labelled) {
  svg.append('g').attr('class', 'cells').selectAll('rect').data(d3.range(y0, y1)).join('rect')
    .attr('x', 1092).attr('width', 12).attr('y', d => d).attr('height', 1.2)
    .attr('fill', d => barColor(1 - (d - y0) / (y1 - y0)))
  svg.append('line').attr('x1', 1104).attr('x2', 1104).attr('y1', y0).attr('y2', y1).attr('stroke', '#444')
  logAxis(d3.axisRight, svg.append('g').attr('transform', 'translate(1104,0)'), scale, ticks, major, 4, labelled, 'right')
}
let barPress1 = d3.scaleLog().domain([Math.pow(10, -12.3), 1e-9]).range([220, 30])
let barPress2 = d3.scaleLog().domain([Math.pow(10, -12.3), 1e-9]).range([416, 225])
let barIons = d3.scaleLog().domain([1e-5, 1e4]).range([691, 515])
colourBar(30, 220, barPress1, logTicks(barPress1), isDecade, isDecade)
colourBar(225, 416, barPress2, logTicks(barPress2), isDecade, isDecade)
colourBar(515, 691, barIons, d3.range(-5, 5).map(e => Math.pow(10, e)),
  d => Math.round(Math.log10(d)) % 2 == 0, d => Math.round(Math.log10(d)) % 2 == 0)

// plain text
function note(str, px, py, anchor) {
  return svg.append('text').attr('x', px).attr('y', py).attr('text-anchor', anchor || 'start').text(str)
}
function turned(str, px, py, angle) {
  return svg.append('text').attr('transform', `translate(${px},${py}) rotate(${angle})`).attr('text-anchor', 'middle').text(str)
}
note('LEMMS and CHEMS Particle Pressures\u00a0\u00a02011:309', 588, 19, 'middle')
note('CHEMS Pr.', 10, 28)
note('LEMMS Pr.', 10, 211)
note('LEMMS Ions', 9, 538)
turned('Energy (keV)', 49, 125, -90)
turned('Energy (keV)', 49, 320, -90)
turned('P dyn/cm^2', 34, 465, -90)
turned('Energy (keV)', 49, 602, -90)
turned('pressure dyne/cm^2', 1164, 125, 90)
turned('pressure dyne/cm^2', 1164, 320, 90)
turned('intensity 1/(s cm^2 ster keV)', 1157, 602, 90)
note('Sunlight?', 79, 707, 'end')
note('LT (hrs)', 60, 749, 'end')
note('Rs', 60, 764, 'end')
note('Dipole L', 60, 779, 'end')

// legend of the pressure lines
const legendNames = ['CHEMS-P', 'LEMMS-P', 'CHEMS-O']
const legendColours = ['#0000ff', '#ff0000', '#00ff00']
legendNames.forEach((name, i) => {
  let ly = 430 + i * 17
  svg.append('line').attr('x1', 1091).attr('x2', 1103).attr('y1', ly - 3).attr('y2', ly + 1.5)
    .attr('stroke', legendColours[i]).attr('stroke-width', 1.2)
  note(name, 1107, ly + 4)
})

// orbit plots
function signedLabel(v) {
  return String(v).replace('-', '\u2212') + '.'
}
function orbitPlot(left, right, xDomain, xTitle, yTitle, yTitleX, draw) {
  let px = d3.scaleLinear().domain(xDomain).range([left, right])
  let py = d3.scaleLinear().domain(yTitle == 'KSM-Y' ? [-40, 40] : [40, -40]).range([803, 950])
  let plot = svg.append('g')
  let curve = d3.line().x(d => px(d[0])).y(d => py(d[1])).curve(d3.curveCatmullRom)
  let path = (xs, ys, color, width, dash) => plot.append('path')
    .attr('d', curve(xs.map((v, i) => [v, ys[i]])))
    .attr('fill', 'none').attr('stroke', color).attr('stroke-width', width)
    .attr('stroke-dasharray', dash || null).attr('stroke-linecap', dash ? 'butt' : 'round')
  svg.append('clipPath').attr('id', 'orbit-' + left).append('rect')
    .attr('x', left).attr('y', 803).attr('width', right - left).attr('height', 147)
  plot.attr('clip-path', `url(#orbit-${left})`)
  draw(path, (mx, my) => {
    plot.append('circle').attr('cx', px(mx)).attr('cy', py(my)).attr('r', 3).attr('fill', '#ff0000')
  }, (mx, my) => {
    plot.append('path').attr('d', d3.symbol(d3.symbolTimes, 70)())
      .attr('transform', `translate(${px(mx)},${py(my)})`)
      .attr('fill', 'none').attr('stroke', '#ff0000').attr('stroke-width', 1)
  })
  svg.append('rect').attr('x', left).attr('y', 803).attr('width', right - left).attr('height', 147)
    .attr('fill', 'none').attr('stroke', '#444').attr('stroke-width', 1.2)

  let bottom = svg.append('g').attr('transform', 'translate(0,950)')
    .call(d3.axisBottom(px).tickValues(d3.range(-40, 41, 10)).tickSize(4).tickFormat(''))
  bottom.select('.domain').remove()
  bottom.selectAll('.tick line').attr('y2', d => d % 20 == 0 ? 6 : 4)
  svg.append('g').selectAll('text').data(d3.range(-40, 41, 20)).join('text')
    .attr('x', d => px(d)).attr('y', 974).attr('text-anchor', 'middle').style('font-size', '12.5px').text(signedLabel)

  let side = svg.append('g').attr('transform', `translate(${left},0)`)
    .call(d3.axisLeft(py).tickValues(d3.range(-40, 41, 2)).tickSize(4).tickFormat(''))
  side.select('.domain').remove()
  side.selectAll('.tick line').attr('x2', d => d % 10 == 0 ? -6 : -4)
  svg.append('g').selectAll('text').data(d3.range(-40, 41, 10)).join('text')
    .attr('x', left - 13).attr('y', d => py(d) + 4).attr('text-anchor', 'end').style('font-size', '12.5px').text(signedLabel)

  note(xTitle.replace('-', '\u2212'), (left + right) / 2, 992, 'middle')
  turned(yTitle.replace('-', '\u2212'), yTitleX, 877, -90)
}

const shockColour = '#0000ff'
const pauseColour = '#7a4a1c'
const dotted = '1.6,1'
orbitPlot(216, 366.7, [40, -40], 'KSM-X', 'KSM-Y', 165, (path, dot, cross) => {
  path(shockX, boundaryY, shockColour, 1.1, dotted)
  path(pauseX, boundaryY, pauseColour, 1.1, dotted)
  path(loopX.concat(loopX[0]), loopY.concat(loopY[0]), '#000', 1.2)
  path(ringX.concat(ringX[0]), ringY.concat(ringY[0]), '#000', 1)
  path(inboundX, inboundY, '#000', 1.2)
  path(outboundX, outboundY, '#000', 1.2)
  path(todayX, todayY, '#0000ff', 5)
  dot(markerX, markerY)
  cross(crossX, crossY)
})
orbitPlot(510, 660, [40, -40], 'KSM-X', 'KSM-Z', 458, (path, dot, cross) => {
  path(shockX, boundaryY, shockColour, 1.1, dotted)
  path(pauseX, boundaryY, pauseColour, 1.1, dotted)
  path(loopX.concat(loopX[0]), loopZ.concat(loopZ[0]), '#000', 1.2)
  path(inboundX, inboundZ, '#000', 1.2)
  path(outboundX, outboundZ, '#000', 1.2)
  path(todayX, todayZ, '#0000ff', 5)
  dot(markerX, markerZ)
  cross(crossX, crossZ)
})
orbitPlot(804, 954.3, [-40, 40], 'KSM-Y', 'KSM-Z', 752, (path, dot, cross) => {
  path(pauseArcA, pauseArcB, pauseColour, 1.1, dotted)
  path(pauseArcA, pauseArcB.map(v => -v), pauseColour, 1.1, dotted)
  path(pauseArcA.map(v => -v), pauseArcB, pauseColour, 1.1, dotted)
  path(pauseArcA.map(v => -v), pauseArcB.map(v => -v), pauseColour, 1.1, dotted)
  path(loopY.concat(loopY[0]), loopZ.concat(loopZ[0]), '#000', 1.2)
  path(ringY.concat(ringY[0]), ringX.map(v => v * 0), '#000', 1)
  path(inboundY, inboundZ, '#000', 1.2)
  path(outboundY, outboundZ, '#000', 1.2)
  path(todayY, todayZ, '#0000ff', 5)
  dot(markerY, markerZ)
  cross(crossY, crossZ)
})
</script>
</body>
</html>
